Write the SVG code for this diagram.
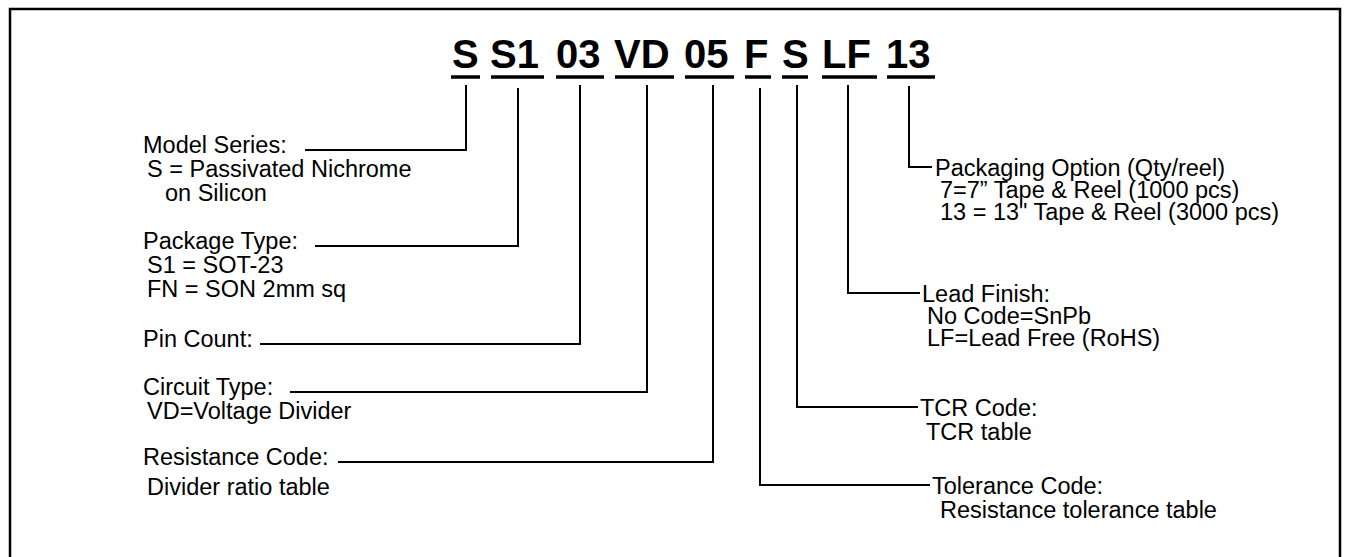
<svg xmlns="http://www.w3.org/2000/svg" width="1347" height="557" viewBox="0 0 1347 557">
<style>
.code{font-family:"Liberation Sans",Arial,sans-serif;font-weight:bold;font-size:40px;fill:#000}
.lbl{font-family:"Liberation Sans",Arial,sans-serif;font-size:23.5px;fill:#000}
.ul{stroke:#000;stroke-width:3.5;fill:none}
.conn{stroke:#000;stroke-width:2;fill:none}
</style>
<rect x="10" y="9" width="1330" height="570" fill="#fff" stroke="#000" stroke-width="2.5"/>
<g id="code">
<text class="code" x="452" y="68">S</text>
<text class="code" x="490" y="68">S1</text>
<text class="code" x="556" y="68">03</text>
<text class="code" x="614" y="68">VD</text>
<text class="code" x="684" y="68">05</text>
<text class="code" x="744" y="68">F</text>
<text class="code" x="782" y="68">S</text>
<text class="code" x="822" y="68">LF</text>
<text class="code" x="886" y="68">13</text>
<path class="ul" d="M451,77H480 M491,77H544 M556,77H604 M615,77H674 M685,77H734 M745,77H771 M782,77H808 M822,77H877 M887,77H935"/>
</g>
<g id="connectors">
<path class="conn" d="M466,85V150H305"/>
<path class="conn" d="M518,88V246H315"/>
<path class="conn" d="M580,85V344H260"/>
<path class="conn" d="M647,85V392H290"/>
<path class="conn" d="M713,85V462H338"/>
<path class="conn" d="M760,88V485H930"/>
<path class="conn" d="M797,85V407H918"/>
<path class="conn" d="M848,85V293H920"/>
<path class="conn" d="M909,86V167H932"/>
</g>
<g id="model-series">
<text class="lbl" x="143" y="153">Model Series:</text>
<text class="lbl" x="147" y="177">S = Passivated Nichrome</text>
<text class="lbl" x="165" y="201">on Silicon</text>
</g>
<g id="package-type">
<text class="lbl" x="143" y="249">Package Type:</text>
<text class="lbl" x="147" y="273">S1 = SOT-23</text>
<text class="lbl" x="147" y="297">FN = SON 2mm sq</text>
</g>
<g id="pin-count">
<text class="lbl" x="143" y="347">Pin Count:</text>
</g>
<g id="circuit-type">
<text class="lbl" x="143" y="395">Circuit Type:</text>
<text class="lbl" x="147" y="419">VD=Voltage Divider</text>
</g>
<g id="resistance-code">
<text class="lbl" x="143" y="465">Resistance Code:</text>
<text class="lbl" x="147" y="495">Divider ratio table</text>
</g>
<g id="packaging">
<text class="lbl" x="935" y="176">Packaging Option (Qty/reel)</text>
<text class="lbl" x="940" y="198">7=7” Tape &amp; Reel (1000 pcs)</text>
<text class="lbl" x="940" y="220">13 = 13" Tape &amp; Reel (3000 pcs)</text>
</g>
<g id="lead-finish">
<text class="lbl" x="922" y="302">Lead Finish:</text>
<text class="lbl" x="927" y="324">No Code=SnPb</text>
<text class="lbl" x="927" y="346">LF=Lead Free (RoHS)</text>
</g>
<g id="tcr-code">
<text class="lbl" x="920" y="416">TCR Code:</text>
<text class="lbl" x="926" y="440">TCR table</text>
</g>
<g id="tolerance-code">
<text class="lbl" x="932" y="494">Tolerance Code:</text>
<text class="lbl" x="940" y="518">Resistance tolerance table</text>
</g>
</svg>
